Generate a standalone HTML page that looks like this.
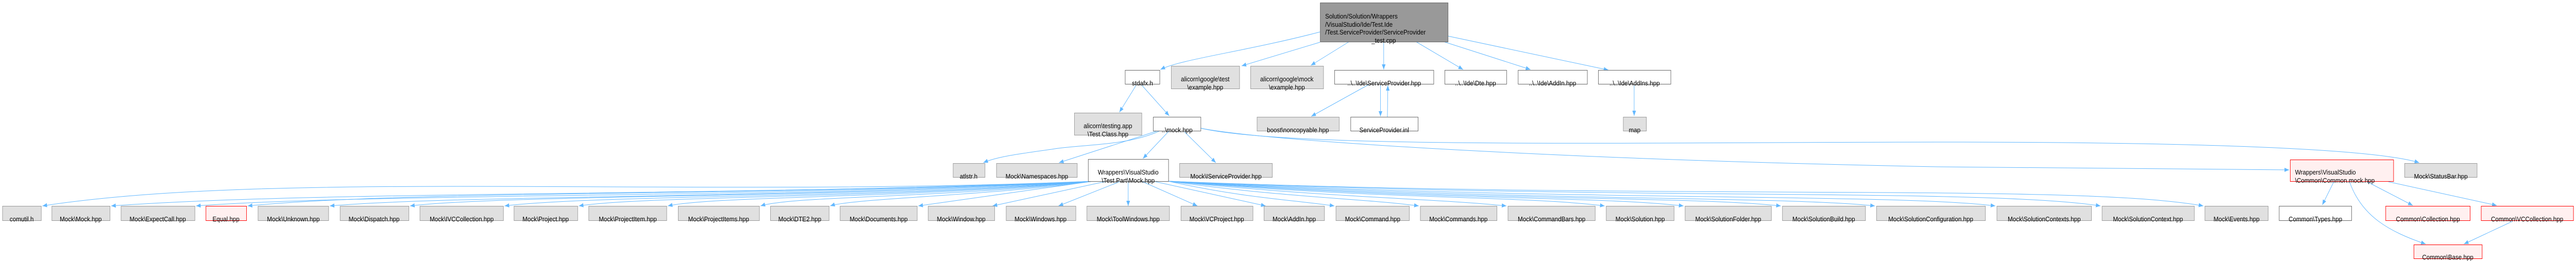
<!DOCTYPE html>
<html><head><meta charset="utf-8"><style>
html,body{margin:0;padding:0;background:#fff;width:100%;height:100%;overflow:hidden;}
svg{display:block;width:100vw;height:100vh;}
text{font-family:"Liberation Sans",sans-serif;font-size:13px;fill:#000;}
.g{fill:#e0e0e0;stroke:#999;stroke-width:1;}
.w{fill:#fff;stroke:#666;stroke-width:1;}
.r{fill:#fff0f0;stroke:#f00;stroke-width:1;}
.m{fill:#999;stroke:#666;stroke-width:1;}
.e{fill:none;stroke:#63b8ff;stroke-width:1;marker-end:url(#a);}
</style></head><body>
<svg viewBox="0 0 5585 507" preserveAspectRatio="none" xmlns="http://www.w3.org/2000/svg">
<defs><marker id="a" markerWidth="10" markerHeight="8" refX="10" refY="4" orient="auto" markerUnits="userSpaceOnUse"><path d="M0,0 L10,4 L0,8z" fill="#63b8ff"/></marker></defs>

<path class="e" d="M2862,62 C2700,100 2560,115 2516,135"/>
<path class="e" d="M2862,82 L2692,128"/>
<path class="e" d="M2925,81 L2842,127"/>
<path class="e" d="M3000,81 L3000,135"/>
<path class="e" d="M3070,81 L3172,135"/>
<path class="e" d="M3130,81 L3318,135"/>
<path class="e" d="M3139,70 L3487,136"/>
<path class="e" d="M2463,166 L2427,218"/>
<path class="e" d="M2476,166 L2535,225"/>
<path class="e" d="M2515,254 C2440,285 2340,280 2280,290 C2200,300 2160,305 2132,316"/>
<path class="e" d="M2510,254 L2296,316"/>
<path class="e" d="M2534,255 L2478,308"/>
<path class="e" d="M2568,256 L2636,316"/>
<path class="e" d="M2970,163 L2843,226"/>
<path class="e" d="M2993,166 L2993,226"/>
<path class="e" d="M3008,227 L3009,166"/>
<path class="e" d="M3543,166 L3543,225"/>
<path class="e" d="M2603,249 C2800,290 3600,276 4200,276 C4800,276 5150,290 5245,316"/>
<path class="e" d="M2603,249 C2750,275 3400,310 4200,324 L4963,330"/>
<path class="e" d="M5060,353 L5035,398"/>
<path class="e" d="M5094,353 C5120,420 5180,450 5259,474"/>
<path class="e" d="M5132,353 L5231,399"/>
<path class="e" d="M5178,353 L5413,399"/>
<path class="e" d="M5447,430 L5342,474"/>

<g>
<path class="e" d="M2370,352 C1500,385 600,330 92,400"/>
<path class="e" d="M2370,352 C1600,382 700,370 241,400"/>
<path class="e" d="M2370,352 C1700,385 800,375 425,400"/>
<path class="e" d="M2370,352 C1700,382 900,368 537,400"/>
<path class="e" d="M2370,352 C1800,385 1000,378 715,400"/>
<path class="e" d="M2370,352 C1800,385 1100,378 889,400"/>
<path class="e" d="M2370,352 C1900,385 1300,378 1094,400"/>
<path class="e" d="M2370,352 C1950,385 1400,380 1255,400"/>
<path class="e" d="M2370,352 C2000,385 1550,380 1448,400"/>
<path class="e" d="M2370,352 C2050,385 1720,380 1649,400"/>
<path class="e" d="M2370,352 C2150,380 1850,385 1800,400"/>
<path class="e" d="M2370,352 L1991,400"/>
<path class="e" d="M2400,352 L2152,400"/>
<path class="e" d="M2430,352 L2295,400"/>
<path class="e" d="M2446,352 L2446,400"/>
<path class="e" d="M2475,352 L2596,400"/>
<path class="e" d="M2500,352 L2744,400"/>
<path class="e" d="M2533,352 C2700,385 2800,388 2893,400"/>
<path class="e" d="M2533,352 C2800,385 2950,385 3076,400"/>
<path class="e" d="M2533,352 C2900,385 3100,385 3266,400"/>
<path class="e" d="M2533,352 C3000,388 3300,380 3479,400"/>
<path class="e" d="M2533,352 C3100,390 3450,380 3650,400"/>
<path class="e" d="M2533,352 C3200,392 3650,380 3861,400"/>
<path class="e" d="M2533,352 C3300,392 3850,380 4065,400"/>
<path class="e" d="M2533,352 C3400,392 4100,375 4326,400"/>
<path class="e" d="M2533,352 C3500,390 4300,365 4554,400"/>
<path class="e" d="M2533,352 C3600,390 4500,355 4777,400"/>
</g>

<rect class="m" x="2862.5" y="5.5" width="277" height="76"/>
<text x="2873" y="36">Solution/Solution/Wrappers</text>
<text x="2873" y="52">/VisualStudio/Ide/Test.Ide</text>
<text x="2873" y="67">/Test.ServiceProvider/ServiceProvider</text>
<text x="3000" y="83" text-anchor="middle">_test.cpp</text>

<rect class="w" x="2439.5" y="136.5" width="75" height="27"/><text x="2477" y="166" text-anchor="middle">stdafx.h</text>
<rect class="g" x="2539.5" y="128.5" width="148" height="44"/><text x="2613" y="158" text-anchor="middle">alicorn\google\test</text><text x="2613" y="174" text-anchor="middle">\example.hpp</text>
<rect class="g" x="2711.5" y="128.5" width="158" height="44"/><text x="2790" y="158" text-anchor="middle">alicorn\google\mock</text><text x="2790" y="174" text-anchor="middle">\example.hpp</text>
<rect class="w" x="2893.5" y="136.5" width="215" height="27"/><text x="3001" y="166" text-anchor="middle">..\..\Ide\ServiceProvider.hpp</text>
<rect class="w" x="3132.5" y="136.5" width="134" height="27"/><text x="3199" y="166" text-anchor="middle">..\..\Ide\Dte.hpp</text>
<rect class="w" x="3291.5" y="136.5" width="150" height="27"/><text x="3366" y="166" text-anchor="middle">..\..\Ide\AddIn.hpp</text>
<rect class="w" x="3465.5" y="136.5" width="157" height="27"/><text x="3544" y="166" text-anchor="middle">..\..\Ide\AddIns.hpp</text>

<rect class="g" x="2329.5" y="219.5" width="146" height="43"/><text x="2402" y="249" text-anchor="middle">alicorn\testing.app</text><text x="2402" y="265" text-anchor="middle">\Test.Class.hpp</text>
<rect class="w" x="2500.5" y="227.5" width="103" height="27"/><text x="2552" y="257" text-anchor="middle">..\mock.hpp</text>
<rect class="g" x="2725.5" y="227.5" width="178" height="27"/><text x="2814" y="257" text-anchor="middle">boost\noncopyable.hpp</text>
<rect class="w" x="2928.5" y="227.5" width="146" height="27"/><text x="3001" y="257" text-anchor="middle">ServiceProvider.inl</text>
<rect class="g" x="3519.5" y="227.5" width="50" height="27"/><text x="3544" y="257" text-anchor="middle">map</text>

<rect class="g" x="2066.5" y="317.5" width="69" height="27"/><text x="2100" y="347" text-anchor="middle">atlstr.h</text>
<rect class="g" x="2160.5" y="317.5" width="175" height="27"/><text x="2248" y="347" text-anchor="middle">Mock\Namespaces.hpp</text>
<rect class="w" x="2359.5" y="309.5" width="174" height="43"/><text x="2446" y="339" text-anchor="middle">Wrappers\VisualStudio</text><text x="2446" y="355" text-anchor="middle">\Test.Part\Mock.hpp</text>
<rect class="g" x="2557.5" y="317.5" width="201" height="27"/><text x="2658" y="347" text-anchor="middle">Mock\IServiceProvider.hpp</text>
<rect class="r" x="4965.5" y="310.5" width="224" height="42"/><text x="4976" y="339">Wrappers\VisualStudio</text><text x="4976" y="355">\Common\Common.mock.hpp</text>
<rect class="g" x="5213.5" y="317.5" width="157" height="27"/><text x="5292" y="347" text-anchor="middle">Mock\StatusBar.hpp</text>

<g>
<rect class="g" x="5.5" y="400.5" width="84" height="28"/><text x="47" y="430" text-anchor="middle">comutil.h</text>
<rect class="g" x="112.5" y="400.5" width="126" height="28"/><text x="175" y="430" text-anchor="middle">Mock\Mock.hpp</text>
<rect class="g" x="262.5" y="400.5" width="160" height="28"/><text x="342" y="430" text-anchor="middle">Mock\ExpectCall.hpp</text>
<rect class="r" x="446.5" y="400.5" width="88" height="28"/><text x="490" y="430" text-anchor="middle">Equal.hpp</text>
<rect class="g" x="559.5" y="400.5" width="153" height="28"/><text x="636" y="430" text-anchor="middle">Mock\Unknown.hpp</text>
<rect class="g" x="737.5" y="400.5" width="149" height="28"/><text x="811" y="430" text-anchor="middle">Mock\Dispatch.hpp</text>
<rect class="g" x="910.5" y="400.5" width="181" height="28"/><text x="1001" y="430" text-anchor="middle">Mock\IVCCollection.hpp</text>
<rect class="g" x="1114.5" y="400.5" width="138" height="28"/><text x="1183" y="430" text-anchor="middle">Mock\Project.hpp</text>
<rect class="g" x="1276.5" y="400.5" width="169" height="28"/><text x="1361" y="430" text-anchor="middle">Mock\ProjectItem.hpp</text>
<rect class="g" x="1470.5" y="400.5" width="176" height="28"/><text x="1558" y="430" text-anchor="middle">Mock\ProjectItems.hpp</text>
<rect class="g" x="1670.5" y="400.5" width="127" height="28"/><text x="1734" y="430" text-anchor="middle">Mock\DTE2.hpp</text>
<rect class="g" x="1821.5" y="400.5" width="167" height="28"/><text x="1905" y="430" text-anchor="middle">Mock\Documents.hpp</text>
<rect class="g" x="2012.5" y="400.5" width="144" height="28"/><text x="2084" y="430" text-anchor="middle">Mock\Window.hpp</text>
<rect class="g" x="2181.5" y="400.5" width="151" height="28"/><text x="2256" y="430" text-anchor="middle">Mock\Windows.hpp</text>
<rect class="g" x="2356.5" y="400.5" width="179" height="28"/><text x="2446" y="430" text-anchor="middle">Mock\ToolWindows.hpp</text>
<rect class="g" x="2560.5" y="400.5" width="156" height="28"/><text x="2638" y="430" text-anchor="middle">Mock\VCProject.hpp</text>
<rect class="g" x="2740.5" y="400.5" width="131" height="28"/><text x="2806" y="430" text-anchor="middle">Mock\AddIn.hpp</text>
<rect class="g" x="2896.5" y="400.5" width="159" height="28"/><text x="2976" y="430" text-anchor="middle">Mock\Command.hpp</text>
<rect class="g" x="3079.5" y="400.5" width="166" height="28"/><text x="3162" y="430" text-anchor="middle">Mock\Commands.hpp</text>
<rect class="g" x="3269.5" y="400.5" width="189" height="28"/><text x="3364" y="430" text-anchor="middle">Mock\CommandBars.hpp</text>
<rect class="g" x="3482.5" y="400.5" width="147" height="28"/><text x="3556" y="430" text-anchor="middle">Mock\Solution.hpp</text>
<rect class="g" x="3653.5" y="400.5" width="187" height="28"/><text x="3747" y="430" text-anchor="middle">Mock\SolutionFolder.hpp</text>
<rect class="g" x="3864.5" y="400.5" width="180" height="28"/><text x="3954" y="430" text-anchor="middle">Mock\SolutionBuild.hpp</text>
<rect class="g" x="4068.5" y="400.5" width="236" height="28"/><text x="4186" y="430" text-anchor="middle">Mock\SolutionConfiguration.hpp</text>
<rect class="g" x="4329.5" y="400.5" width="205" height="28"/><text x="4432" y="430" text-anchor="middle">Mock\SolutionContexts.hpp</text>
<rect class="g" x="4557.5" y="400.5" width="200" height="28"/><text x="4657" y="430" text-anchor="middle">Mock\SolutionContext.hpp</text>
<rect class="g" x="4780.5" y="400.5" width="137" height="28"/><text x="4849" y="430" text-anchor="middle">Mock\Events.hpp</text>
<rect class="w" x="4941.5" y="400.5" width="157" height="28"/><text x="5020" y="430" text-anchor="middle">Common\Types.hpp</text>
<rect class="r" x="5172.5" y="400.5" width="183" height="28"/><text x="5264" y="430" text-anchor="middle">Common\Collection.hpp</text>
<rect class="r" x="5379.5" y="400.5" width="200" height="28"/><text x="5479" y="430" text-anchor="middle">Common\VCCollection.hpp</text>
<rect class="r" x="5233.5" y="475.5" width="148" height="27"/><text x="5307" y="504" text-anchor="middle">Common\Base.hpp</text>
</g>
</svg>
</body></html>
